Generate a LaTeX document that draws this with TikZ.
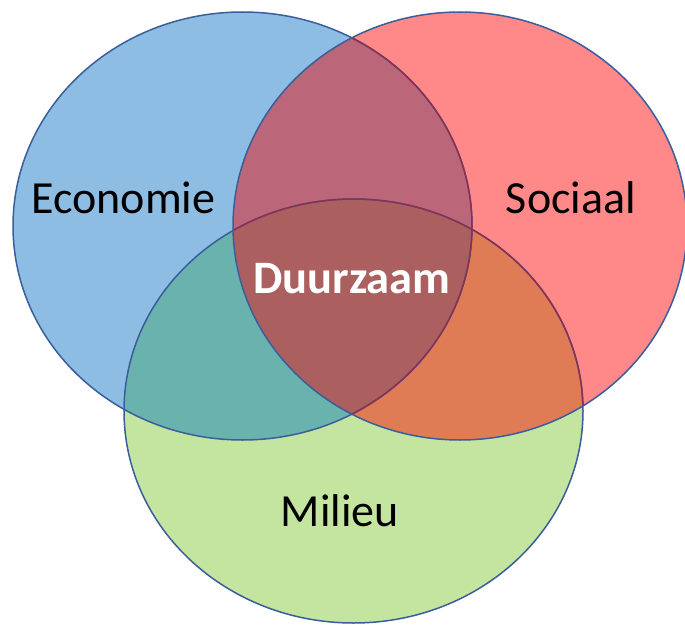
\documentclass[tikz,border=0pt]{standalone}
\usepackage{fontspec}
\setmainfont{Carlito}
\definecolor{ecofill}{HTML}{8DBDE3}
\definecolor{socfill}{HTML}{FF8888}
\definecolor{milfill}{HTML}{C4E59F}
\definecolor{ecosoc}{HTML}{BC6679}
\definecolor{ecomil}{HTML}{6AB2AE}
\definecolor{socmil}{HTML}{DF7B55}
\definecolor{allthree}{HTML}{AB5F5E}
\definecolor{rimblue}{HTML}{3A5E9B}
\definecolor{rimdark}{HTML}{8A3052}
\tikzset{
  rim/.style={draw=rimblue, line width=1.5pt},
  label/.style={font=\fontsize{46}{50}\selectfont, text=black, inner sep=0pt},
  core/.style={font=\fontsize{46.5}{50}\selectfont\bfseries, text=white, inner sep=0pt}
}
\newcommand{\ecoshape}{(242.5,-226) ellipse [x radius=229.5, y radius=214]}
\newcommand{\socshape}{(460,-226) ellipse [x radius=227, y radius=214]}
\newcommand{\milshape}{(353.5,-411) ellipse [x radius=229.5, y radius=212]}
\begin{document}
\begin{tikzpicture}[x=1pt, y=1pt]
  \useasboundingbox (0,0) rectangle (685,-626);
  \fill[white] (0,0) rectangle (685,-626);
  % single sets
  \fill[ecofill] \ecoshape;
  \fill[socfill] \socshape;
  \fill[milfill] \milshape;
  % pairwise overlaps
  \begin{scope}\clip \ecoshape; \fill[ecosoc] \socshape; \end{scope}
  \begin{scope}\clip \ecoshape; \fill[ecomil] \milshape; \end{scope}
  \begin{scope}\clip \socshape; \fill[socmil] \milshape; \end{scope}
  % common core
  \begin{scope}\clip \ecoshape; \clip \socshape; \fill[allthree] \milshape; \end{scope}
  % outlines
  \draw[rim] \milshape;
  \draw[rim] \ecoshape;
  \begin{scope}\clip \socshape;
    \draw[rim, draw=rimdark] \milshape;
    \draw[rim, draw=rimdark] \ecoshape;
  \end{scope}
  \draw[rim] \socshape;
  % labels
  \node[label] (eco) at (123.5,-198) {Economie};
  \node[label] (soc) at (571,-198) {Sociaal};
  \node[label] (mil) at (340,-511) {Milieu};
  \node[core] (duur) at (352,-279) {Duurzaam};
\end{tikzpicture}
\end{document}
